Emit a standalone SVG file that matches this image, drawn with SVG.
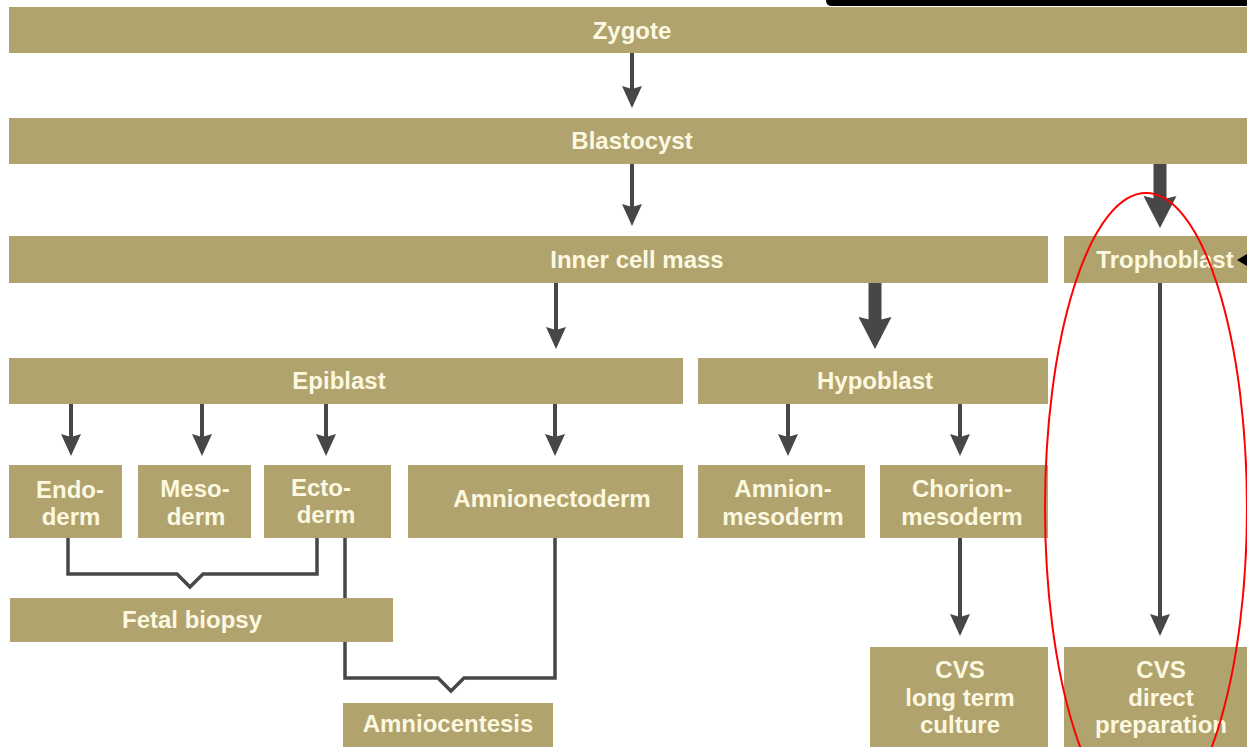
<svg xmlns="http://www.w3.org/2000/svg" width="1247" height="747" viewBox="0 0 1247 747">
<style>
.box{fill:#b0a36e}
.t{font-family:"Liberation Sans",Arial,sans-serif;font-size:24px;font-weight:bold;fill:#fdf8e0;text-anchor:middle}
.thin{stroke:#474747;stroke-width:4;fill:none}
.thick{stroke:#474747;stroke-width:13;fill:none}
.br{stroke:#474747;stroke-width:3.5;fill:none}
</style>
<defs>
<marker id="ah" markerUnits="userSpaceOnUse" viewBox="0 0 22 20" refX="12" refY="10" markerWidth="22" markerHeight="20" orient="auto">
<path d="M0,0 L22,10 L0,20 L3,10 z" fill="#474747"/>
</marker>
<marker id="ahT" markerUnits="userSpaceOnUse" viewBox="0 0 32 33" refX="16" refY="16.5" markerWidth="32" markerHeight="33" orient="auto">
<path d="M0,0 L32,16.5 L0,33 L4,16.5 z" fill="#474747"/>
</marker>
</defs>
<rect width="1247" height="747" fill="#ffffff"/>
<path d="M826,0 H1247 V6 H832 Q826,6 826,0 z" fill="#000"/>
<g id="connectors">
<line class="thin" x1="632" y1="53" x2="632" y2="98" marker-end="url(#ah)"/>
<line class="thin" x1="632" y1="164" x2="632" y2="216" marker-end="url(#ah)"/>
<line class="thick" x1="1160" y1="164" x2="1160" y2="212" marker-end="url(#ahT)"/>
<line class="thin" x1="556" y1="283" x2="556" y2="339" marker-end="url(#ah)"/>
<line class="thick" x1="875" y1="283" x2="875" y2="333" marker-end="url(#ahT)"/>
<line class="thin" x1="71" y1="404" x2="71" y2="446" marker-end="url(#ah)"/>
<line class="thin" x1="202" y1="404" x2="202" y2="446" marker-end="url(#ah)"/>
<line class="thin" x1="326" y1="404" x2="326" y2="446" marker-end="url(#ah)"/>
<line class="thin" x1="555" y1="404" x2="555" y2="446" marker-end="url(#ah)"/>
<line class="thin" x1="788" y1="404" x2="788" y2="446" marker-end="url(#ah)"/>
<line class="thin" x1="960" y1="404" x2="960" y2="446" marker-end="url(#ah)"/>
<line class="thin" x1="960" y1="538" x2="960" y2="626" marker-end="url(#ah)"/>
<line class="thin" x1="1160" y1="283" x2="1160" y2="626" marker-end="url(#ah)"/>
<path class="br" d="M68,538 V574 H177 L190,587 L203,574 H317 V538"/>
<path class="br" d="M345,538 V678 H438 L451,691 L464,678 H555 V538"/>
</g>
<g id="zygote"><rect class="box" x="9" y="7" width="1238" height="46"/><text class="t" x="632" y="39">Zygote</text></g>
<g id="blastocyst"><rect class="box" x="9" y="118" width="1238" height="46"/><text class="t" x="632" y="149">Blastocyst</text></g>
<g id="inner-cell-mass"><rect class="box" x="9" y="236" width="1039" height="47"/><text class="t" x="637" y="268">Inner cell mass</text></g>
<g id="trophoblast"><rect class="box" x="1064" y="236" width="183" height="47"/><text class="t" x="1165" y="268">Trophoblast</text></g>
<g id="epiblast"><rect class="box" x="9" y="358" width="674" height="46"/><text class="t" x="339" y="389">Epiblast</text></g>
<g id="hypoblast"><rect class="box" x="698" y="358" width="350" height="46"/><text class="t" x="875" y="389">Hypoblast</text></g>
<g id="endoderm"><rect class="box" x="9" y="465" width="113" height="73"/><text class="t" x="70" y="498">Endo-</text><text class="t" x="71" y="525">derm</text></g>
<g id="mesoderm"><rect class="box" x="138" y="465" width="113" height="73"/><text class="t" x="195" y="497">Meso-</text><text class="t" x="196" y="525">derm</text></g>
<g id="ectoderm"><rect class="box" x="264" y="465" width="127" height="73"/><text class="t" x="321" y="496">Ecto-</text><text class="t" x="326" y="523">derm</text></g>
<g id="amnionectoderm"><rect class="box" x="408" y="465" width="275" height="73"/><text class="t" x="552" y="507">Amnionectoderm</text></g>
<g id="amnion-mesoderm"><rect class="box" x="698" y="465" width="167" height="73"/><text class="t" x="783" y="497">Amnion-</text><text class="t" x="783" y="525">mesoderm</text></g>
<g id="chorion-mesoderm"><rect class="box" x="880" y="465" width="168" height="73"/><text class="t" x="962" y="497">Chorion-</text><text class="t" x="962" y="525">mesoderm</text></g>
<g id="fetal-biopsy"><rect class="box" x="10" y="598" width="383" height="44"/><text class="t" x="192" y="628">Fetal biopsy</text></g>
<g id="amniocentesis"><rect class="box" x="343" y="703" width="210" height="44"/><text class="t" x="448" y="732">Amniocentesis</text></g>
<g id="cvs-long"><rect class="box" x="870" y="647" width="178" height="100"/><text class="t" x="960" y="678">CVS</text><text class="t" x="960" y="706">long term</text><text class="t" x="960" y="733">culture</text></g>
<g id="cvs-direct"><rect class="box" x="1064" y="647" width="183" height="100"/><text class="t" x="1161" y="678">CVS</text><text class="t" x="1161" y="706">direct</text><text class="t" x="1161" y="733">preparation</text></g>
<path d="M1237,260 L1247,254 L1247,266 z" fill="#000"/>
<ellipse cx="1146" cy="508" rx="101" ry="315" fill="none" stroke="#ff0000" stroke-width="2"/>
</svg>
